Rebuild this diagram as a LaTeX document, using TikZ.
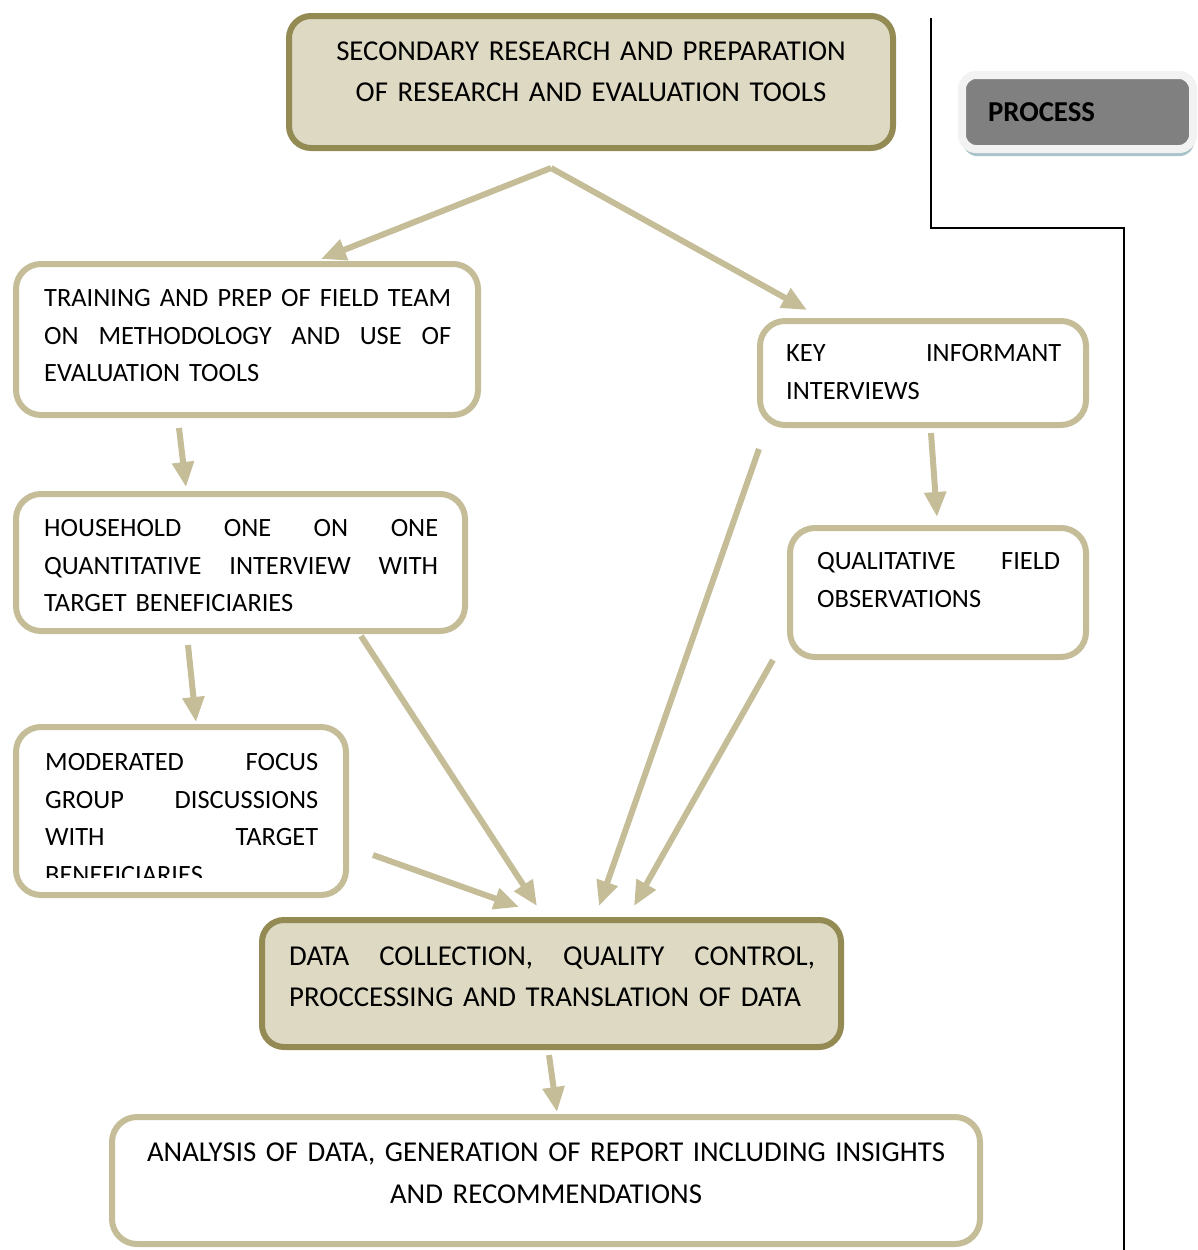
\documentclass[tikz,border=0pt]{standalone}
\usepackage{fontspec}
\setmainfont{Carlito}
\usetikzlibrary{arrows.meta,shadows}
\definecolor{boxfill}{HTML}{DDD9C3}
\definecolor{boxdark}{HTML}{948A54}
\definecolor{boxtan}{HTML}{C4BD97}
\definecolor{procgrey}{HTML}{808080}
\definecolor{procrim}{HTML}{F2F2F2}
\definecolor{procshadow}{HTML}{A9C3CB}
\tikzset{
  mainbox/.style={draw=boxdark, fill=boxfill, line width=6pt, rounded corners=22pt},
  stepbox/.style={draw=boxtan, fill=white, line width=6pt, rounded corners=25pt},
  smalltext/.style={font=\fontsize{26.4}{37.5}\selectfont, inner sep=0pt, align=left, anchor=base west},
  bigtext/.style={font=\fontsize{28.8}{41}\selectfont, inner sep=0pt, anchor=base},
  flow/.style={draw=boxtan, line width=6pt, -{Triangle[width=21pt,length=25pt]}},
  procbox/.style={draw=procrim, fill=procgrey, line width=8pt, rounded corners=14pt,
    drop shadow={shadow xshift=1pt, shadow yshift=-7pt, fill=procshadow, opacity=1},
    font=\fontsize{28.8}{34}\selectfont\bfseries, text width=179, inner xsep=26pt,
    minimum height=74, align=left}
}
\begin{document}
\begin{tikzpicture}[x=1pt,y=-1pt]
\useasboundingbox (0,0) rectangle (1198,1250);
% frame line
\draw[line width=1.5pt] (931,18) |- (1124,228) -- (1124,1250);
\node[procbox] (proc) at (1077.5,112) {PROCESS};
% boxes
\node[mainbox, minimum width=604, minimum height=132] (sec) at (591,82) {};
\node[stepbox, minimum width=462, minimum height=151] (train) at (247,339.5) {};
\node[stepbox, minimum width=449, minimum height=137] (house) at (240.5,562.5) {};
\node[stepbox, minimum width=330, minimum height=168] (focus) at (181,811) {};
\node[stepbox, minimum width=326, minimum height=104] (key) at (923,373) {};
\node[stepbox, minimum width=296, minimum height=129] (qual) at (938,592.5) {};
\node[mainbox, minimum width=579, minimum height=127] (data) at (551.5,983.5) {};
\node[stepbox, minimum width=868, minimum height=127] (anal) at (546,1180.5) {};
% texts
\node[bigtext, text width=604, align=center] (secT) at (591,60)
  {SECONDARY RESEARCH AND PREPARATION\\OF RESEARCH AND EVALUATION TOOLS};
\node[smalltext, text width=407] (trainT) at (44,306.5)
  {TRAINING\hfill AND\hfill PREP\hfill OF\hfill FIELD\hfill TEAM\\
   ON\hfill METHODOLOGY\hfill AND\hfill USE\hfill OF\\
   EVALUATION TOOLS};
\node[smalltext, text width=394] (houseT) at (44,536.5)
  {HOUSEHOLD\hfill ONE\hfill ON\hfill ONE\\
   QUANTITATIVE\hfill INTERVIEW\hfill WITH\\
   TARGET BENEFICIARIES};
\begin{scope}
\clip (0,720) rectangle (360,877);
\node[smalltext, text width=273] (focusT) at (45,770.5)
  {MODERATED\hfill FOCUS\\
   GROUP\hfill DISCUSSIONS\\
   WITH\hfill TARGET\\
   BENEFICIARIES};
\end{scope}
\node[smalltext, text width=275] (keyT) at (786,361.5)
  {KEY\hfill INFORMANT\\
   INTERVIEWS};
\node[smalltext, text width=243] (qualT) at (817,569.5)
  {QUALITATIVE\hfill FIELD\\
   OBSERVATIONS};
\node[bigtext, anchor=base west, text width=526, align=left] (dataT) at (289,965)
  {DATA\hfill COLLECTION,\hfill QUALITY\hfill CONTROL,\\
   PROCCESSING AND TRANSLATION OF DATA};
\node[bigtext, text width=860, align=center, font=\fontsize{28.8}{42}\selectfont] (analT) at (546,1161)
  {ANALYSIS OF DATA, GENERATION OF REPORT INCLUDING INSIGHTS\\
   AND RECOMMENDATIONS};
% arrow ends
\coordinate (fork) at (551,168);
\coordinate (trainIn) at (321,259);
\coordinate (keyIn) at (807,310);
\coordinate (trainOut) at (179,428);
\coordinate (houseIn) at (186,487);
\coordinate (houseOut) at (188,645);
\coordinate (focusIn) at (196,722);
\coordinate (houseSide) at (361,636);
\coordinate (dataInA) at (537,906);
\coordinate (focusOut) at (373,855);
\coordinate (dataInB) at (519,907);
\coordinate (keyOut) at (759,449);
\coordinate (dataInC) at (599,906);
\coordinate (keyDown) at (931,433);
\coordinate (qualIn) at (937,517);
\coordinate (qualOut) at (773,660);
\coordinate (dataInD) at (634,906);
\coordinate (dataOut) at (549,1055);
\coordinate (analIn) at (557,1112);
% arrows
\draw[flow] (fork) -- (trainIn);
\draw[flow] (fork) -- (keyIn);
\draw[flow] (trainOut) -- (houseIn);
\draw[flow] (houseOut) -- (focusIn);
\draw[flow] (houseSide) -- (dataInA);
\draw[flow] (focusOut) -- (dataInB);
\draw[flow] (keyOut) -- (dataInC);
\draw[flow] (keyDown) -- (qualIn);
\draw[flow] (qualOut) -- (dataInD);
\draw[flow] (dataOut) -- (analIn);
\end{tikzpicture}
\end{document}
